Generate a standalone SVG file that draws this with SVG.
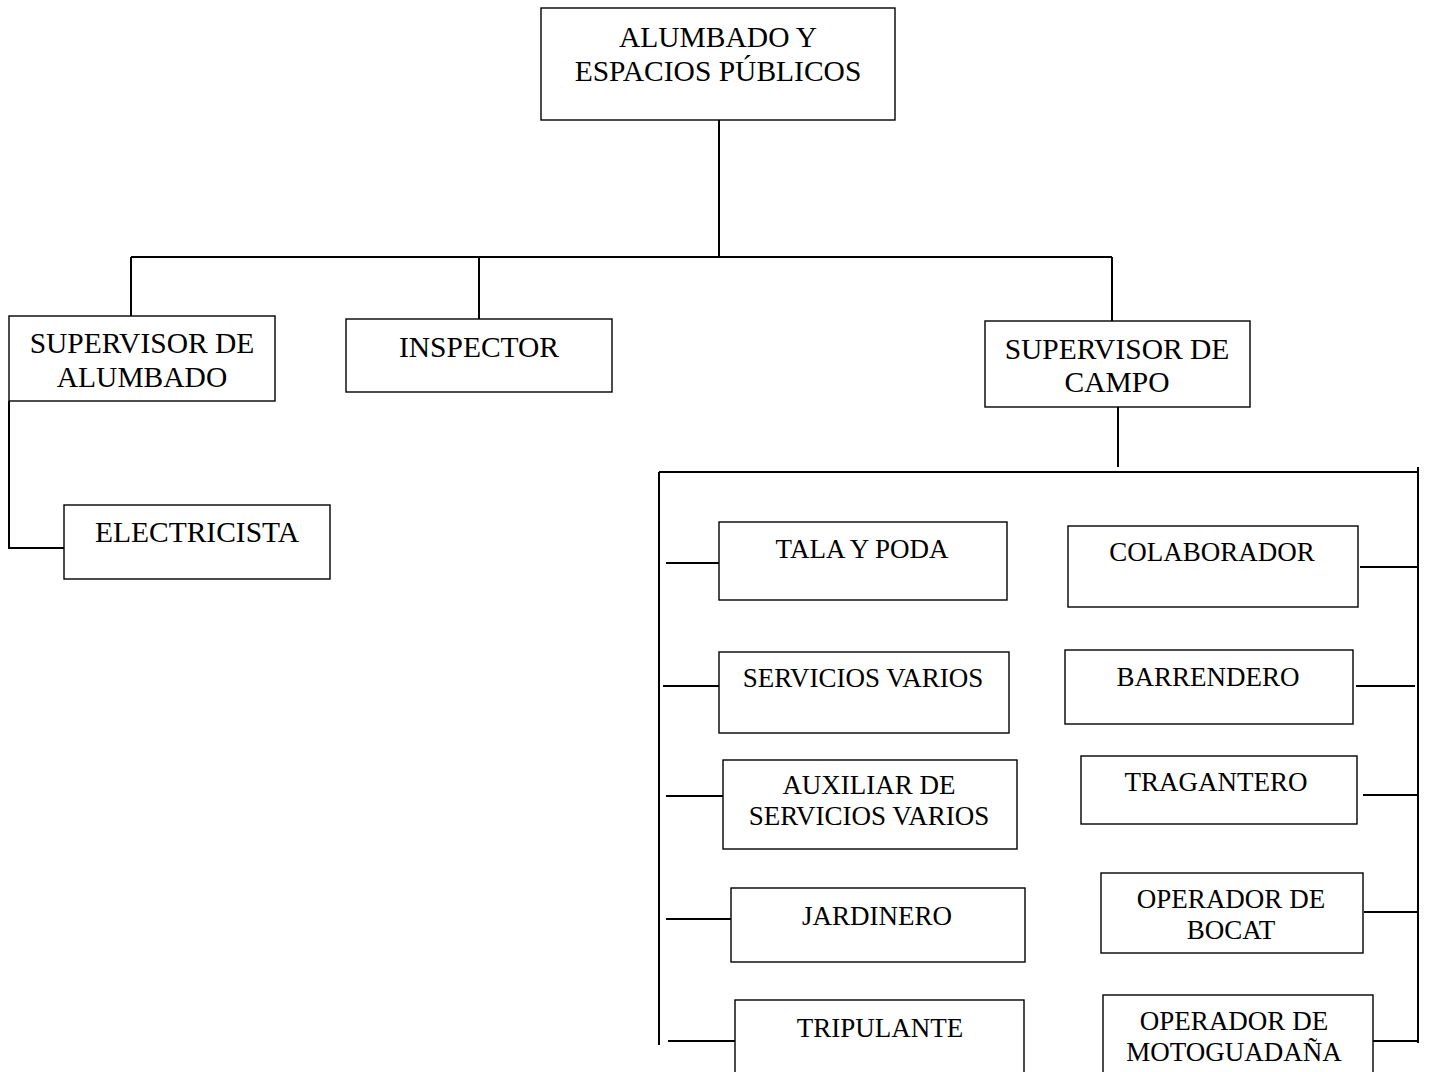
<svg xmlns="http://www.w3.org/2000/svg" width="1430" height="1072" viewBox="0 0 1430 1072">
<style>
.box{fill:#fff;stroke:#000;stroke-width:1.4}
.t{font-family:"Liberation Serif","Times New Roman",serif;fill:#000;text-anchor:middle}
.t1{font-size:29.5px}
.t2{font-size:29.5px}
.t3{font-size:27px}
.c{stroke:#000;stroke-width:2;fill:none}
</style>
<rect width="1430" height="1072" fill="#fff"/>
<g id="connectors">
<path class="c" d="M719 120V258"/>
<path class="c" d="M131 257H1112"/>
<path class="c" d="M131 257V316"/>
<path class="c" d="M479 257V319"/>
<path class="c" d="M1112 257V321"/>
<path class="c" d="M9 401V548H64"/>
<path class="c" d="M1118 407V467"/>
<path class="c" d="M659 472H1418"/>
<path class="c" d="M659 472V1045"/>
<path class="c" d="M1418 467V1043"/>
<path class="c" d="M666 563H720"/>
<path class="c" d="M663 686H721"/>
<path class="c" d="M666 796H724"/>
<path class="c" d="M666 919H731"/>
<path class="c" d="M668 1041H735"/>
<path class="c" d="M1360 567H1418"/>
<path class="c" d="M1356 686H1415"/>
<path class="c" d="M1363 795H1418"/>
<path class="c" d="M1364 912H1418"/>
<path class="c" d="M1373 1041H1418"/>
</g>
<g id="n-root"><rect class="box" x="541" y="8" width="354" height="112"/><text class="t t1" x="718" y="47">ALUMBADO Y</text><text class="t t1" x="718" y="81">ESPACIOS PÚBLICOS</text></g>
<g id="n-sup-alumbado"><rect class="box" x="9" y="316" width="266" height="85"/><text class="t t2" x="142" y="353">SUPERVISOR DE</text><text class="t t2" x="142" y="387">ALUMBADO</text></g>
<g id="n-inspector"><rect class="box" x="346" y="319" width="266" height="73"/><text class="t t2" x="479" y="357">INSPECTOR</text></g>
<g id="n-sup-campo"><rect class="box" x="985" y="321" width="265" height="86"/><text class="t t2" x="1117" y="359">SUPERVISOR DE</text><text class="t t2" x="1117" y="392">CAMPO</text></g>
<g id="n-electricista"><rect class="box" x="64" y="505" width="266" height="74"/><text class="t t2" x="197" y="542">ELECTRICISTA</text></g>
<g id="n-tala"><rect class="box" x="719" y="522" width="288" height="78"/><text class="t t3" x="862" y="558">TALA Y PODA</text></g>
<g id="n-servicios"><rect class="box" x="719" y="652" width="290" height="81"/><text class="t t3" x="863" y="687">SERVICIOS VARIOS</text></g>
<g id="n-auxiliar"><rect class="box" x="723" y="760" width="294" height="89"/><text class="t t3" x="869" y="794">AUXILIAR DE</text><text class="t t3" x="869" y="825">SERVICIOS VARIOS</text></g>
<g id="n-jardinero"><rect class="box" x="731" y="888" width="294" height="74"/><text class="t t3" x="877" y="925">JARDINERO</text></g>
<g id="n-tripulante"><rect class="box" x="735" y="1000" width="289" height="75"/><text class="t t3" x="880" y="1037">TRIPULANTE</text></g>
<g id="n-colaborador"><rect class="box" x="1068" y="526" width="290" height="81"/><text class="t t3" x="1212" y="561">COLABORADOR</text></g>
<g id="n-barrendero"><rect class="box" x="1065" y="650" width="288" height="74"/><text class="t t3" x="1208" y="686">BARRENDERO</text></g>
<g id="n-tragantero"><rect class="box" x="1081" y="756" width="276" height="68"/><text class="t t3" x="1216" y="791">TRAGANTERO</text></g>
<g id="n-bocat"><rect class="box" x="1101" y="873" width="262" height="80"/><text class="t t3" x="1231" y="908">OPERADOR DE</text><text class="t t3" x="1231" y="939">BOCAT</text></g>
<g id="n-motoguadana"><rect class="box" x="1103" y="995" width="270" height="80"/><text class="t t3" x="1234" y="1030">OPERADOR DE</text><text class="t t3" x="1234" y="1061">MOTOGUADAÑA</text></g>
</svg>
